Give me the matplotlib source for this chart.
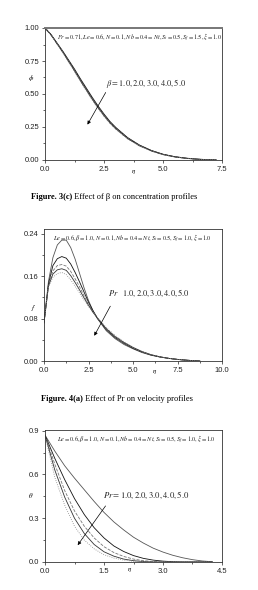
import numpy as np
import matplotlib
matplotlib.use("Agg")
import matplotlib.pyplot as plt

plt.rcParams["font.family"] = ["Liberation Sans", "DejaVu Sans"]
plt.rcParams["mathtext.fontset"] = "stix"

# ---- Figure 3(c): concentration profiles, beta = 1..5 ----
eta_phi = [0, 0.25, 0.5, 0.75, 1.0, 1.25, 1.5, 1.75, 2.0, 2.25, 2.5, 2.75, 3.0,
           3.5, 4.0, 4.5, 5.0, 5.5, 6.0, 6.5, 7.0, 7.25]
beta_vals = ["1.0", "2.0", "3.0", "4.0", "5.0"]
phi_b1 = [1.0, 0.952, 0.889, 0.826, 0.758, 0.690, 0.616, 0.546, 0.476, 0.410, 0.349, 0.293, 0.247,
          0.170, 0.114, 0.073, 0.044, 0.025, 0.014, 0.006, 0.002, 0.0]
phi_b2 = [1.0, 0.951, 0.887, 0.823, 0.754, 0.685, 0.611, 0.541, 0.471, 0.405, 0.345, 0.289, 0.244,
          0.168, 0.112, 0.072, 0.043, 0.025, 0.013, 0.006, 0.002, 0.0]
phi_b3 = [1.0, 0.950, 0.885, 0.820, 0.750, 0.680, 0.605, 0.535, 0.465, 0.400, 0.340, 0.285, 0.240,
          0.165, 0.110, 0.070, 0.042, 0.024, 0.013, 0.006, 0.002, 0.0]
phi_b4 = [1.0, 0.949, 0.883, 0.817, 0.746, 0.675, 0.600, 0.530, 0.460, 0.395, 0.335, 0.281, 0.236,
          0.162, 0.108, 0.069, 0.041, 0.023, 0.012, 0.005, 0.002, 0.0]
phi_b5 = [1.0, 0.948, 0.881, 0.814, 0.742, 0.670, 0.595, 0.524, 0.454, 0.390, 0.330, 0.277, 0.232,
          0.160, 0.106, 0.068, 0.040, 0.023, 0.012, 0.005, 0.002, 0.0]

# ---- Figure 4(a): velocity profiles, Pr = 1..5 ----
eta_f = [0, 0.25, 0.5, 0.75, 1.0, 1.25, 1.5, 1.75, 2.0, 2.25, 2.5, 2.75, 3.0,
         3.5, 4.0, 4.5, 5.0, 5.5, 6.0, 6.5, 7.0, 7.5, 8.0, 8.5, 8.75]
pr_vals = ["1.0", "2.0", "3.0", "4.0", "5.0"]
f_p1 = [0.072, 0.150, 0.195, 0.219, 0.228, 0.228, 0.214, 0.192, 0.165, 0.138, 0.114, 0.095, 0.080,
        0.057, 0.042, 0.031, 0.023, 0.016, 0.011, 0.0075, 0.005, 0.003, 0.0015, 0.0005, 0.0]
f_p2 = [0.072, 0.145, 0.180, 0.193, 0.197, 0.194, 0.183, 0.167, 0.149, 0.130, 0.111, 0.095, 0.081,
        0.059, 0.044, 0.033, 0.024, 0.017, 0.0115, 0.0078, 0.005, 0.003, 0.0015, 0.0005, 0.0]
f_p3 = [0.072, 0.143, 0.170, 0.180, 0.182, 0.179, 0.169, 0.155, 0.140, 0.123, 0.107, 0.093, 0.081,
        0.060, 0.045, 0.034, 0.025, 0.0175, 0.012, 0.008, 0.005, 0.003, 0.0015, 0.0005, 0.0]
f_p4 = [0.072, 0.141, 0.164, 0.172, 0.174, 0.171, 0.161, 0.148, 0.134, 0.119, 0.105, 0.092, 0.081,
        0.061, 0.046, 0.035, 0.0255, 0.018, 0.012, 0.008, 0.005, 0.003, 0.0015, 0.0005, 0.0]
f_p5 = [0.072, 0.140, 0.158, 0.165, 0.167, 0.163, 0.153, 0.141, 0.128, 0.115, 0.103, 0.092, 0.082,
        0.063, 0.048, 0.036, 0.026, 0.018, 0.012, 0.008, 0.005, 0.003, 0.0015, 0.0005, 0.0]

# ---- temperature profiles, Pr = 1..5 ----
eta_t = [0, 0.25, 0.5, 0.75, 1.0, 1.25, 1.5, 1.75, 2.0, 2.25, 2.5, 2.75, 3.0,
         3.25, 3.5, 3.75, 4.0, 4.25]
th_p1 = [0.87, 0.76, 0.66, 0.575, 0.495, 0.415, 0.34, 0.275, 0.22, 0.17, 0.13, 0.095, 0.068,
         0.046, 0.029, 0.016, 0.007, 0.002]
th_p2 = [0.87, 0.71, 0.565, 0.435, 0.325, 0.235, 0.165, 0.11, 0.072, 0.044, 0.025, 0.013, 0.006,
         0.002, 0.0, 0.0, 0.0, 0.0]
th_p3 = [0.87, 0.67, 0.49, 0.35, 0.245, 0.165, 0.105, 0.065, 0.038, 0.02, 0.009, 0.003, 0.0,
         0.0, 0.0, 0.0, 0.0, 0.0]
th_p4 = [0.87, 0.63, 0.445, 0.30, 0.195, 0.12, 0.07, 0.04, 0.02, 0.009, 0.003, 0.0, 0.0,
         0.0, 0.0, 0.0, 0.0, 0.0]
th_p5 = [0.87, 0.58, 0.39, 0.245, 0.15, 0.09, 0.05, 0.027, 0.013, 0.005, 0.001, 0.0, 0.0,
         0.0, 0.0, 0.0, 0.0, 0.0]

styles = [("#555555", "-"), ("#111111", "-"), ("#777777", "--"), ("#333333", "-"), ("#888888", ":")]

fig = plt.figure(figsize=(2.58, 5.90), dpi=100)


def setup(ax, xlim, xticks, xminor, ylim, yticks, yminor, yfmt):
    ax.set_xlim(*xlim)
    ax.set_ylim(*ylim)
    ax.set_xticks(xticks)
    ax.set_xticks(xminor, minor=True)
    ax.set_yticks(yticks)
    ax.set_yticks(yminor, minor=True)
    ax.set_yticklabels([yfmt % v for v in yticks])
    ax.set_xticklabels(["%.1f" % v for v in xticks])
    ax.tick_params(which="both", direction="out", labelsize=5.5, width=0.5, pad=1.5, colors="#222222")
    ax.tick_params(which="major", length=2.5)
    ax.tick_params(which="minor", length=1.5)
    for s in ax.spines.values():
        s.set_linewidth(0.6)
        s.set_color("#333333")


def cap_text(x, y, bold, rest):
    # bold figure number, then the plain caption right after it
    t = fig.text(x, y, bold, fontsize=6, fontweight="bold", family="Liberation Serif",
                 ha="left", va="center")
    fig.text(0, 0, "")
    plt.annotate(rest, xy=(1, 0.5), xycoords=t, va="center", ha="left",
                 fontsize=6, family="Liberation Serif", annotation_clip=False)


# panel 1
ax1 = fig.add_axes([45 / 258, 1 - 160 / 590, 177 / 258, 132 / 590])
for vals, (c, ls) in zip([phi_b1, phi_b2, phi_b3, phi_b4, phi_b5], styles):
    ax1.plot(eta_phi, vals, color=c, ls=ls, lw=0.6)
setup(ax1, (0, 7.5), [0, 2.5, 5.0, 7.5], [1.25, 3.75, 6.25], (0, 1.0),
      [0, 0.25, 0.5, 0.75, 1.0], [0.125, 0.375, 0.625, 0.875], "%.2f")
ax1.spines["top"].set_linewidth(1.4)
ax1.spines["top"].set_color("#777777")
ax1.text(0.07, 0.97, r"$Pr=0.71, Le=0.6, N=0.1, Nb=0.4=Nt, S_t=0.5, S_f=1.5, \xi=1.0$",
         transform=ax1.transAxes, fontsize=4.5, color="#222222", ha="left", va="top")
ax1.annotate("", xy=(1.74, 0.25), xytext=(2.63, 0.53),
             arrowprops=dict(arrowstyle="-|>", lw=0.5, color="black", mutation_scale=5))
ax1.text(2.58, 0.58, r"$\beta=1.0, 2.0, 3.0, 4.0, 5.0$", fontsize=6, color="#222222",
         ha="left", va="center")
ax1.text(-0.08, 0.62, r"$\phi$", transform=ax1.transAxes, fontsize=5, ha="center", va="center")
ax1.text(0.5, -0.09, r"$\eta$", transform=ax1.transAxes, fontsize=5, ha="center", va="center")
cap_text(31 / 258, 1 - 197 / 590, "Figure. 3(c)", " Effect of \u03b2 on concentration profiles")

# panel 2
ax2 = fig.add_axes([44 / 258, 1 - 361 / 590, 178 / 258, 132 / 590])
for vals, (c, ls) in zip([f_p1, f_p2, f_p3, f_p4, f_p5], styles):
    ax2.plot(eta_f, vals, color=c, ls=ls, lw=0.6)
setup(ax2, (0, 10), [0, 2.5, 5.0, 7.5, 10.0], [1.25, 3.75, 6.25, 8.75], (0, 0.249),
      [0, 0.08, 0.16, 0.24], [0.04, 0.12, 0.20], "%.2f")
ax2.text(0.05, 0.97, r"$Le=0.6, \beta=1.0, N=0.1, Nb=0.4=Nt, S_t=0.5, S_f=1.0, \xi=1.0$",
         transform=ax2.transAxes, fontsize=4.5, color="#222222", ha="left", va="top")
ax2.annotate("", xy=(2.75, 0.043), xytext=(3.8, 0.108),
             arrowprops=dict(arrowstyle="-|>", lw=0.5, color="black", mutation_scale=5))
ax2.text(3.6, 0.127, r"$Pr\quad 1.0, 2.0, 3.0, 4.0, 5.0$", fontsize=6, color="#222222",
         ha="left", va="center")
ax2.text(-0.06, 0.4, r"$f'$", transform=ax2.transAxes, fontsize=5, ha="center", va="center")
ax2.text(0.62, -0.08, r"$\eta$", transform=ax2.transAxes, fontsize=5, ha="center", va="center")
cap_text(41 / 258, 1 - 399 / 590, "Figure. 4(a)", " Effect of Pr on velocity profiles")

# panel 3
ax3 = fig.add_axes([45 / 258, 1 - 562 / 590, 177 / 258, 132 / 590])
for vals, (c, ls) in zip([th_p1, th_p2, th_p3, th_p4, th_p5], styles):
    ax3.plot(eta_t, vals, color=c, ls=ls, lw=0.6)
setup(ax3, (0, 4.5), [0, 1.5, 3.0, 4.5], [0.75, 2.25, 3.75], (0, 0.905),
      [0, 0.3, 0.6, 0.9], [0.15, 0.45, 0.75], "%.1f")
ax3.text(0.07, 0.97, r"$Le=0.6, \beta=1.0, N=0.1, Nb=0.4=Nt, S_t=0.5, S_f=1.0, \xi=1.0$",
         transform=ax3.transAxes, fontsize=4.5, color="#222222", ha="left", va="top")
ax3.annotate("", xy=(0.79, 0.10), xytext=(1.58, 0.40),
             arrowprops=dict(arrowstyle="-|>", lw=0.5, color="black", mutation_scale=5))
ax3.text(1.47, 0.457, r"$Pr=1.0, 2.0, 3.0, 4.0, 5.0$", fontsize=6.2, color="#222222",
         ha="left", va="center")
ax3.text(-0.08, 0.5, r"$\theta$", transform=ax3.transAxes, fontsize=5, ha="center", va="center")
ax3.text(0.48, -0.03, r"$\eta$", transform=ax3.transAxes, fontsize=5, ha="center", va="top")

fig.savefig("out.png", dpi=100)
